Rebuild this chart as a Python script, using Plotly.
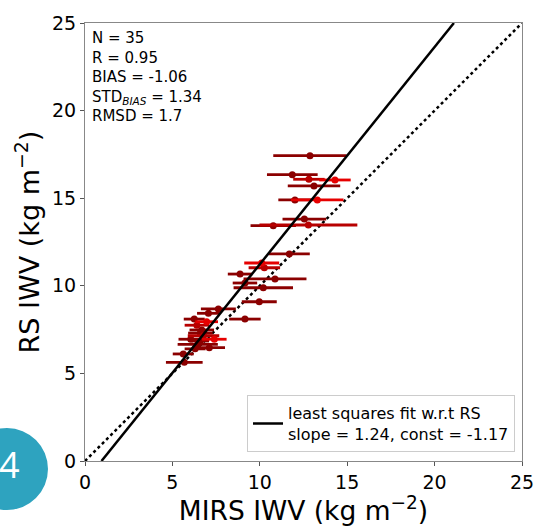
import numpy as np
import plotly.graph_objects as go

# data: (MIRS IWV, RS IWV, MIRS error) grouped by colour shade
dark_x = [12.87, 11.86, 13.10, 12.01, 12.55, 10.77, 11.69, 8.87, 10.87, 9.15, 10.20, 9.97,
          7.63, 7.06, 6.25, 9.15, 6.68, 6.60, 6.60, 6.45, 7.11, 6.30, 5.62, 5.68, 6.05]
dark_y = [17.43, 16.34, 15.70, 14.90, 13.81, 13.43, 11.82, 10.67, 10.39, 10.16, 9.89, 9.09,
          8.68, 8.43, 8.10, 8.10, 7.48, 7.30, 6.85, 6.66, 6.47, 6.40, 6.11, 5.63, 6.95]
dark_e = [2.10, 1.45, 1.50, 0.95, 1.25, 1.30, 1.17, 0.70, 1.80, 0.70, 1.70, 1.00,
          1.00, 0.65, 0.60, 0.90, 0.70, 0.70, 0.50, 1.15, 0.90, 0.60, 0.60, 1.05, 0.70]

mid_x = [12.81, 12.78, 10.26, 6.78, 6.40]
mid_y = [16.08, 13.47, 11.03, 7.15, 7.75]
mid_e = [0.90, 2.80, 0.90, 0.90, 0.70]

red_x = [14.30, 13.29, 10.11, 6.96, 7.40]
red_y = [16.04, 14.90, 11.30, 7.95, 6.95]
red_e = [0.90, 1.50, 1.00, 0.65, 0.70]

slope, const = 1.24, -1.17
stats = ["N = 35", "R = 0.95", "BIAS = -1.06", "STD<sub><i>BIAS</i></sub> = 1.34", "RMSD = 1.7"]
ticks = [0, 5, 10, 15, 20, 25]

FONT = "DejaVu Sans"
fig = go.Figure()

# 1:1 line
fig.add_trace(go.Scatter(x=[0, 25], y=[0, 25], mode="lines",
                         line=dict(color="black", width=2.5, dash="dot"),
                         showlegend=False, hoverinfo="skip"))

for xs, ys, es, col in [(dark_x, dark_y, dark_e, "#8b0000"),
                        (mid_x, mid_y, mid_e, "#b80000"),
                        (red_x, red_y, red_e, "#e60000")]:
    fig.add_trace(go.Scatter(x=xs, y=ys, mode="markers",
                             marker=dict(color=col, size=7),
                             error_x=dict(type="data", array=es, visible=True,
                                          color=col, thickness=2.8, width=0),
                             showlegend=False))

# least squares fit line
fx = np.array([(0 - const) / slope, (25 - const) / slope])
fig.add_trace(go.Scatter(x=fx, y=slope * fx + const, mode="lines",
                         line=dict(color="black", width=2.5),
                         name=f"least squares fit w.r.t RS<br>slope = {slope}, const = {const}"))

fig.add_annotation(text="<br>".join(stats), xref="paper", yref="paper",
                   x=0.012, y=0.99, xanchor="left", yanchor="top", showarrow=False,
                   align="left", font=dict(family=FONT, size=15, color="black"))

# decorative teal badge
fig.add_shape(type="circle", xref="paper", yref="paper",
              x0=-0.2723, x1=-0.0847, y0=-0.1119, y1=0.0753,
              fillcolor="#2ea3bf", line=dict(width=0), layer="above")
fig.add_annotation(text="4", xref="paper", yref="paper", x=-0.172, y=-0.007,
                   xanchor="center", yanchor="middle",
                   showarrow=False, font=dict(family="Open Sans", size=36, color="white"))

axis_common = dict(range=[0, 25], tickvals=ticks, ticks="outside", ticklen=4,
                   tickcolor="#555", showline=True, linecolor="#888", linewidth=1,
                   mirror=True, showgrid=False, zeroline=False, automargin=False,
                   tickfont=dict(family=FONT, size=19, color="black"))
fig.update_xaxes(**axis_common,
                 title=dict(text="MIRS IWV (kg m<sup>−2</sup>)", standoff=2,
                            font=dict(family=FONT, size=26.5, color="black")))
fig.update_yaxes(**axis_common,
                 title=dict(text="RS IWV (kg m<sup>−2</sup>)", standoff=4,
                            font=dict(family=FONT, size=27, color="black")))

fig.update_layout(width=535, height=526, margin=dict(l=85, r=13, t=23, b=65),
                  plot_bgcolor="white", paper_bgcolor="white",
                  legend=dict(x=0.984, y=0.02, xanchor="right", yanchor="bottom",
                              bgcolor="white", bordercolor="#ccc", borderwidth=1,
                              itemwidth=30,
                              font=dict(family=FONT, size=16, color="black")))
fig.write_html("out.html")
